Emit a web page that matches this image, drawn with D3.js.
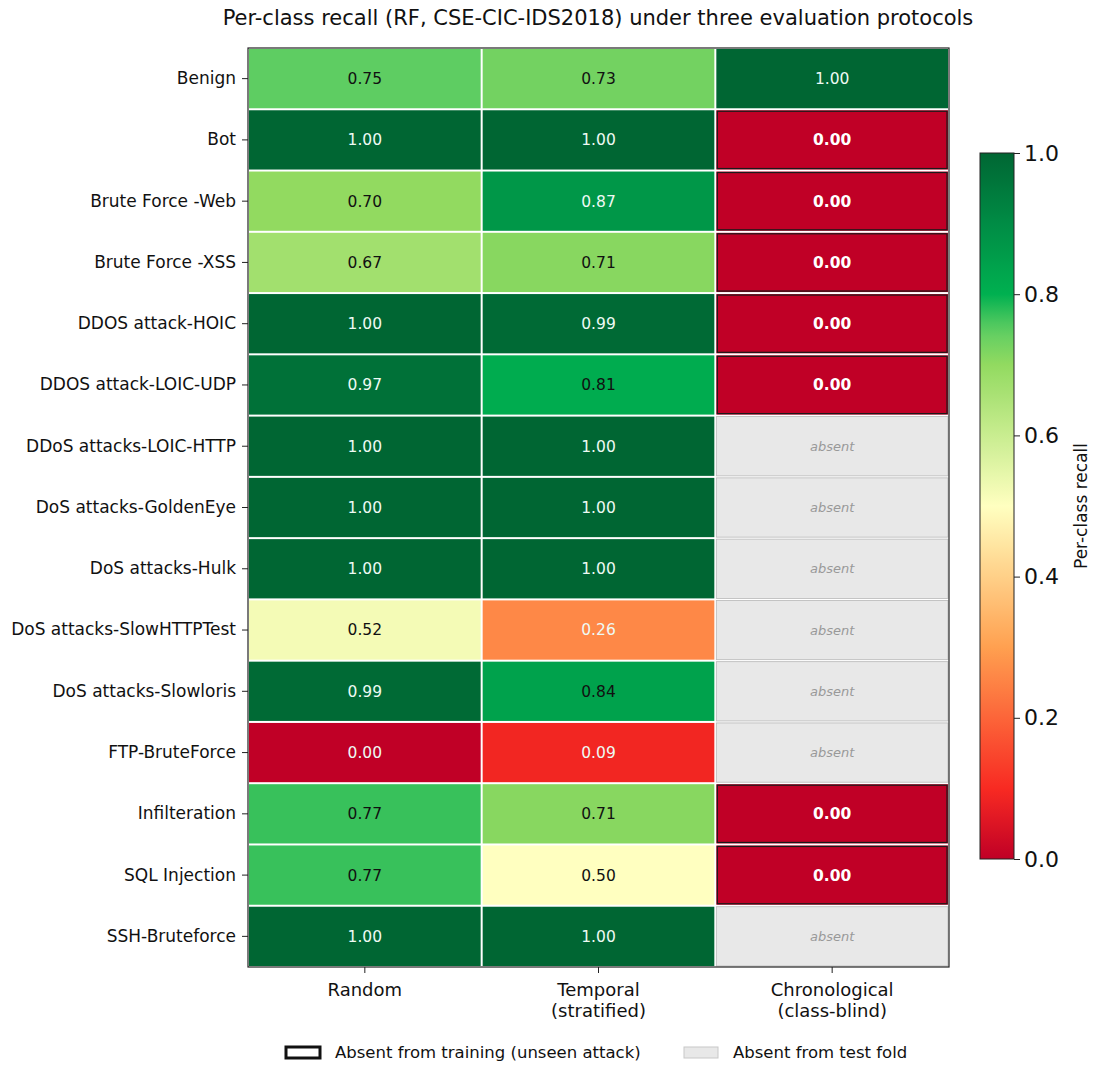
<!DOCTYPE html>
<html>
<head>
<meta charset="utf-8">
<script src="https://cdn.jsdelivr.net/npm/d3@7"></script>
<style>
  body { margin: 0; background: #fff; }
  svg text { font-family: "DejaVu Sans", DejaVuSans, Verdana, sans-serif; }
</style>
</head>
<body>
<svg id="chart" width="1095" height="1071"></svg>
<script>
// data
const classes = [
  'Benign', 'Bot', 'Brute Force -Web', 'Brute Force -XSS', 'DDOS attack-HOIC',
  'DDOS attack-LOIC-UDP', 'DDoS attacks-LOIC-HTTP', 'DoS attacks-GoldenEye',
  'DoS attacks-Hulk', 'DoS attacks-SlowHTTPTest', 'DoS attacks-Slowloris',
  'FTP-BruteForce', 'Infilteration', 'SQL Injection', 'SSH-Bruteforce'
];
const protocols = ['Random', 'Temporal\n(stratified)', 'Chronological\n(class-blind)'];
const randomRecall   = [0.75, 1.00, 0.70, 0.67, 1.00, 0.97, 1.00, 1.00, 1.00, 0.52, 0.99, 0.00, 0.77, 0.77, 1.00];
const temporalRecall = [0.73, 1.00, 0.87, 0.71, 0.99, 0.81, 1.00, 1.00, 1.00, 0.26, 0.84, 0.09, 0.71, 0.50, 1.00];
// null = absent from test fold
const chronoRecall   = [1.00, 0.00, 0.00, 0.00, 0.00, 0.00, null, null, null, null, null, null, 0.00, 0.00, null];
// classes absent from training in the chronological split
const chronoUnseen   = [false, true, true, true, true, true, false, false, false, false, false, false, true, true, false];
const cbTicks = [0, 0.2, 0.4, 0.6, 0.8, 1.0];

const columns = [randomRecall, temporalRecall, chronoRecall];
const cells = [];
columns.forEach((col, j) => col.forEach((v, i) => {
  cells.push({row: i, col: j, value: v, unseen: j === 2 && chronoUnseen[i]});
}));

const FONT = '"DejaVu Sans", Verdana, sans-serif';
const svg = d3.select('#chart');
const m = {left: 248, top: 48, right: 949, bottom: 967};

const x = d3.scaleBand().domain(d3.range(protocols.length)).range([m.left, m.right]);
const y = d3.scaleBand().domain(classes).range([m.top, m.bottom]);

// colour map (red - yellow - green, brighter greens than RdYlGn)
const color = d3.scaleLinear()
  .domain([0, 0.1, 0.3, 0.5, 0.7, 0.75, 0.8, 0.9, 1.0])
  .range(['#c00026', '#f82a22', '#ffa050', '#ffffc0', '#92da60', '#5ecd62', '#00b050', '#008c45', '#006633'])
  .clamp(true);

svg.append('text')
  .attr('x', 598).attr('y', 25)
  .attr('text-anchor', 'middle')
  .attr('font-size', 21)
  .attr('fill', '#111')
  .text('Per-class recall (RF, CSE-CIC-IDS2018) under three evaluation protocols');

const g = svg.append('g');

g.selectAll('rect.cell')
  .data(cells)
  .join('rect')
  .attr('class', 'cell')
  .attr('x', d => x(d.col) + 1)
  .attr('y', d => y(classes[d.row]) + 1)
  .attr('width', x.bandwidth() - 2)
  .attr('height', y.bandwidth() - 2)
  .attr('fill', d => d.value === null ? '#e8e8e8' : color(d.value))
  .attr('stroke', d => d.value === null ? '#b8b8b8' : 'none')
  .attr('stroke-width', 0.8);

// unseen-attack outlines
g.selectAll('rect.unseen')
  .data(cells.filter(d => d.unseen))
  .join('rect')
  .attr('class', 'unseen')
  .attr('x', d => x(d.col) + 2)
  .attr('y', d => y(classes[d.row]) + 2)
  .attr('width', x.bandwidth() - 4)
  .attr('height', y.bandwidth() - 4)
  .attr('fill', 'none')
  .attr('stroke', '#1a1a1a')
  .attr('stroke-width', 1.2);

g.selectAll('text.val')
  .data(cells)
  .join('text')
  .attr('class', 'val')
  .attr('x', d => x(d.col) + x.bandwidth() / 2)
  .attr('y', d => y(classes[d.row]) + y.bandwidth() / 2)
  .attr('dy', '0.35em')
  .attr('text-anchor', 'middle')
  .attr('font-size', d => d.value === null ? 13 : 15.5)
  .attr('font-style', d => d.value === null ? 'italic' : null)
  .attr('font-weight', d => d.unseen ? 'bold' : null)
  .attr('fill', d => {
    if (d.value === null) return '#999';
    if (d.unseen) return '#fff';
    return (d.value < 0.3 || d.value > 0.85) ? '#eefaf4' : '#111';
  })
  .text(d => d.value === null ? 'absent' : d.value.toFixed(2));

// frame
g.append('rect')
  .attr('x', m.left).attr('y', m.top)
  .attr('width', m.right - m.left).attr('height', m.bottom - m.top)
  .attr('fill', 'none').attr('stroke', '#222').attr('stroke-width', 1.2);

// axes
const yAxis = svg.append('g')
  .attr('transform', `translate(${m.left},0)`)
  .call(d3.axisLeft(y).tickSize(6).tickPadding(6));
yAxis.attr('font-family', FONT);
yAxis.select('.domain').remove();
yAxis.selectAll('line').attr('stroke', '#222');
yAxis.selectAll('text').attr('font-size', 17).attr('fill', '#111');

const xAxis = svg.append('g')
  .attr('transform', `translate(0,${m.bottom})`)
  .call(d3.axisBottom(x).tickSize(6).tickFormat(() => ''));
xAxis.attr('font-family', FONT);
xAxis.select('.domain').remove();
xAxis.selectAll('line').attr('stroke', '#222');
xAxis.selectAll('.tick').each(function(d) {
  const t = d3.select(this).append('text')
    .attr('fill', '#111').attr('font-size', 18)
    .attr('text-anchor', 'middle');
  protocols[d].split('\n').forEach((line, k) => {
    t.append('tspan').attr('x', 0).attr('y', 29 + k * 21).text(line);
  });
});

// colourbar
const cb = {x: 980, y0: 153, y1: 859, w: 34};
const cbScale = d3.scaleLinear().domain([0, 1]).range([cb.y1, cb.y0]);
const defs = svg.append('defs');
const grad = defs.append('linearGradient')
  .attr('id', 'cbgrad').attr('x1', 0).attr('y1', 1).attr('x2', 0).attr('y2', 0);
d3.range(0, 1.0001, 0.02).forEach(t => {
  grad.append('stop').attr('offset', t).attr('stop-color', color(t));
});
svg.append('rect')
  .attr('x', cb.x).attr('y', cb.y0)
  .attr('width', cb.w).attr('height', cb.y1 - cb.y0)
  .attr('fill', 'url(#cbgrad)')
  .attr('stroke', '#222').attr('stroke-width', 1);
const cbAxis = svg.append('g')
  .attr('transform', `translate(${cb.x + cb.w},0)`)
  .call(d3.axisRight(cbScale).tickValues(cbTicks).tickFormat(d3.format('.1f')).tickSize(6).tickPadding(4));
cbAxis.attr('font-family', FONT);
cbAxis.select('.domain').remove();
cbAxis.selectAll('line').attr('stroke', '#222');
cbAxis.selectAll('text').attr('font-size', 22).attr('fill', '#111');
svg.append('text')
  .attr('transform', `translate(1087,${(cb.y0 + cb.y1) / 2}) rotate(-90)`)
  .attr('text-anchor', 'middle')
  .attr('font-size', 17)
  .attr('fill', '#111')
  .text('Per-class recall');

// legend
const legend = [
  {label: 'Absent from training (unseen attack)', fill: '#fff', stroke: '#111', sw: 3, x: 286},
  {label: 'Absent from test fold', fill: '#e8e8e8', stroke: '#c8c8c8', sw: 1, x: 684}
];
const lg = svg.append('g').selectAll('g').data(legend).join('g')
  .attr('transform', d => `translate(${d.x},1052)`);
lg.append('rect')
  .attr('x', 0).attr('y', -5)
  .attr('width', 34).attr('height', 11)
  .attr('fill', d => d.fill).attr('stroke', d => d.stroke).attr('stroke-width', d => d.sw);
lg.append('text')
  .attr('x', 49).attr('y', 0).attr('dy', '0.35em')
  .attr('font-size', 16.5).attr('fill', '#111')
  .text(d => d.label);
</script>
</body>
</html>
